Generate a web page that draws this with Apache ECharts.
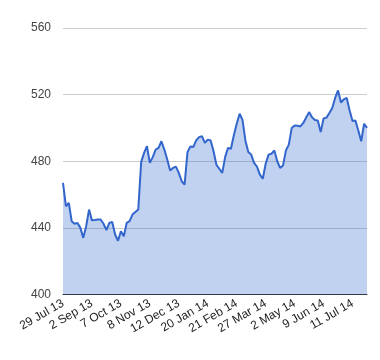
<!DOCTYPE html>
<html>
<head>
<meta charset="utf-8">
<script src="https://cdn.jsdelivr.net/npm/echarts@6/dist/echarts.min.js"></script>
<style>
html,body{margin:0;padding:0;background:#fff;}
#c{width:380px;height:360px;}
</style>
</head>
<body>
<div id="c"></div>
<script>
// Tick labels shown on the x axis (every 10th sample)
var tickLabels = ['29 Jul 13','2 Sep 13','7 Oct 13','8 Nov 13','12 Dec 13','20 Jan 14','21 Feb 14','27 Mar 14','2 May 14','9 Jun 14','11 Jul 14'];
var labelStep = 10;
// Series values
var values = [
467,453,455,444,442.5,443,440,434,441,451,
444.5,444.7,445,445,442.5,438.7,443,443.5,436,432.3,
438,435,443,444,448,449.5,451,479.5,485,489,
479,482.5,487,488,492,487,481,474.5,476,476.8,
473,468,466,485.5,488.9,488.5,492.5,494.5,495,491,
493,492.5,486,477.8,475.5,473,482.5,488,487.5,495.5,
502.5,508.5,504.8,492.5,485.5,484,479,476.8,472,469.5,
478.5,484,484.5,486.5,480,476,477.5,486.5,490,500,
501.5,501.3,500.9,503,506.3,509.5,506.4,504.8,504.5,497.5,
505.7,506.2,509,512,518,522.5,515.3,517.2,518,510.5,
504.2,504.5,498.5,492,502.5,500
];
var yTicks = [400, 440, 480, 520, 560];

var categories = values.map(function(v, i){ return String(i); });

var chart = echarts.init(document.getElementById('c'), null, {renderer:'canvas'});
chart.setOption({
  animation: false,
  backgroundColor: '#ffffff',
  grid: {left: 63, right: 13, top: 28, bottom: 65.5, containLabel: false},
  xAxis: {
    type: 'category',
    data: categories,
    boundaryGap: false,
    axisLine: {show: true, lineStyle: {color: '#333333', width: 1}},
    axisTick: {show: false},
    splitLine: {show: false},
    axisLabel: {
      interval: labelStep - 1,
      rotate: 30,
      margin: 8,
      fontFamily: 'Liberation Sans, Arial, sans-serif',
      fontSize: 12,
      color: '#222222',
      formatter: function(v, idx){ return idx % labelStep === 0 ? (tickLabels[idx / labelStep] || '') : ''; }
    }
  },
  yAxis: {
    type: 'value',
    min: yTicks[0],
    max: yTicks[yTicks.length - 1],
    interval: 40,
    axisLine: {show: false},
    axisTick: {show: false},
    splitLine: {show: true, lineStyle: {color: '#cccccc', width: 1}},
    axisLabel: {
      margin: 12,
      fontFamily: 'Liberation Sans, Arial, sans-serif',
      fontSize: 12,
      color: '#444444'
    }
  },
  series: [{
    type: 'line',
    data: values,
    showSymbol: false,
    symbol: 'none',
    smooth: false,
    lineStyle: {color: '#3366cc', width: 2},
    itemStyle: {color: '#3366cc'},
    areaStyle: {color: '#3366cc', opacity: 0.3}
  }]
});
</script>
</body>
</html>
